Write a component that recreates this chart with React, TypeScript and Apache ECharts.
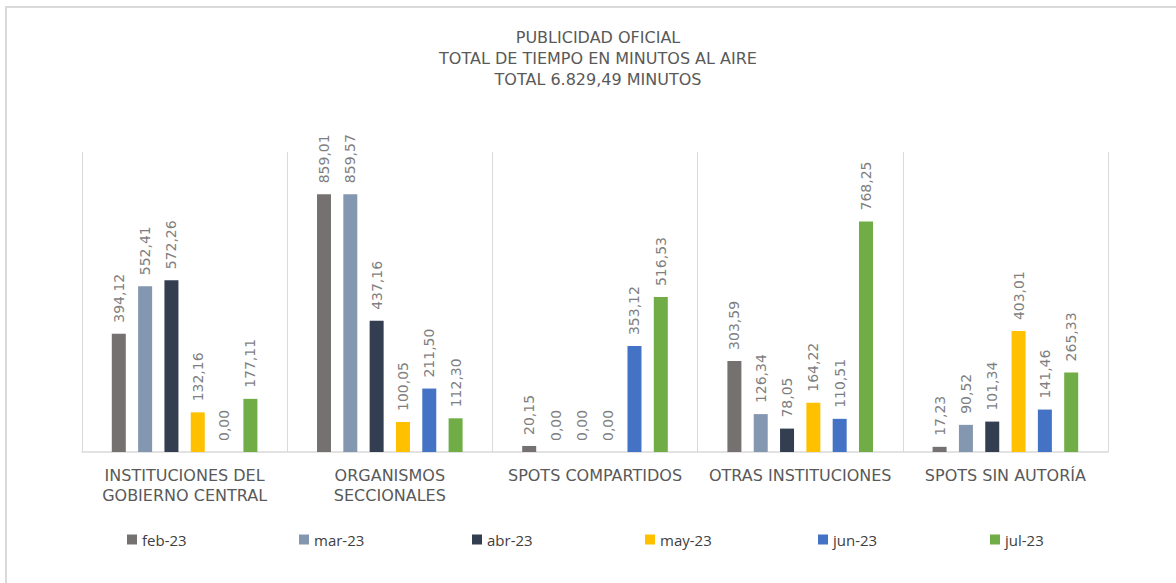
import React, { useEffect, useRef } from "react";
import * as echarts from "echarts";

const categories = [
  "INSTITUCIONES DEL\nGOBIERNO CENTRAL",
  "ORGANISMOS\nSECCIONALES",
  "SPOTS COMPARTIDOS",
  "OTRAS INSTITUCIONES",
  "SPOTS SIN AUTORÍA",
];

const seriesNames = ["feb-23", "mar-23", "abr-23", "may-23", "jun-23", "jul-23"];

const feb23 = [394.12, 859.01, 20.15, 303.59, 17.23];
const mar23 = [552.41, 859.57, 0, 126.34, 90.52];
const abr23 = [572.26, 437.16, 0, 78.05, 101.34];
const may23 = [132.16, 100.05, 0, 164.22, 403.01];
const jun23 = [0, 211.5, 353.12, 110.51, 141.46];
const jul23 = [177.11, 112.3, 516.53, 768.25, 265.33];

const seriesValues = [feb23, mar23, abr23, may23, jun23, jul23];
const seriesColors = ["#767171", "#8497B0", "#333F50", "#FFC000", "#4472C4", "#70AD47"];

const titleText = "PUBLICIDAD OFICIAL\nTOTAL DE TIEMPO EN MINUTOS AL AIRE\nTOTAL 6.829,49 MINUTOS";

const legendLefts = [127, 299, 472, 645, 818, 990];

function fmt(v: number): string {
  return v.toFixed(2).replace(".", ",");
}

export default function App() {
  const ref = useRef<HTMLDivElement>(null);

  useEffect(() => {
    if (!ref.current) return;
    const chart = echarts.init(ref.current, null, { renderer: "svg" });
    const option: any = {
      animation: false,
      backgroundColor: "#ffffff",
      title: {
        text: titleText,
        left: 593,
        top: 22,
        textAlign: "center",
        textStyle: {
          fontFamily: "DejaVu Sans",
          fontSize: 16,
          fontWeight: "normal",
          color: "#595959",
          lineHeight: 21,
        },
      },
      graphic: [
        {
          type: "rect",
          shape: { x: 6, y: 7, width: 1400, height: 800 },
          style: { fill: "none", stroke: "#d9d9d9", lineWidth: 2 },
          silent: true,
          z: -10,
        },
      ],
      legend: seriesNames.map((n, i) => ({
        data: [n],
        left: legendLefts[i],
        top: 532,
        icon: "rect",
        itemWidth: 10,
        itemHeight: 10,
        padding: 0,
        textStyle: {
          fontFamily: "Open Sans",
          fontSize: 15,
          color: "#404040",
        },
      })),
      grid: {
        left: 82,
        right: 68,
        top: 152,
        bottom: 131,
        containLabel: false,
      },
      xAxis: {
        type: "category",
        data: categories,
        axisLine: { show: true, lineStyle: { color: "#d9d9d9", width: 1.5 } },
        axisTick: { show: false },
        splitLine: { show: true, lineStyle: { color: "#d9d9d9", width: 1 } },
        axisLabel: {
          interval: 0,
          margin: 13,
          fontFamily: "DejaVu Sans",
          fontSize: 16,
          color: "#595959",
          lineHeight: 20,
        },
      },
      yAxis: {
        type: "value",
        min: 0,
        max: 1000,
        show: false,
        splitLine: { show: false },
      },
      series: seriesNames.map((n, i) => ({
        name: n,
        type: "bar",
        data: seriesValues[i],
        barWidth: 14,
        barGap: "88%",
        itemStyle: { color: seriesColors[i] },
        label: {
          show: true,
          position: "top",
          rotate: 90,
          align: "left",
          verticalAlign: "middle",
          distance: 11,
          fontFamily: "DejaVu Sans",
          fontSize: 14,
          color: "#7f7f7f",
          formatter: (p: any) => fmt(p.value),
        },
      })),
    };
    chart.setOption(option);
    return () => {
      chart.dispose();
    };
  }, []);

  return (
    <div
      ref={ref}
      style={{ position: "fixed", left: 0, top: 0, width: 1176, height: 583, background: "#fff" }}
    />
  );
}
